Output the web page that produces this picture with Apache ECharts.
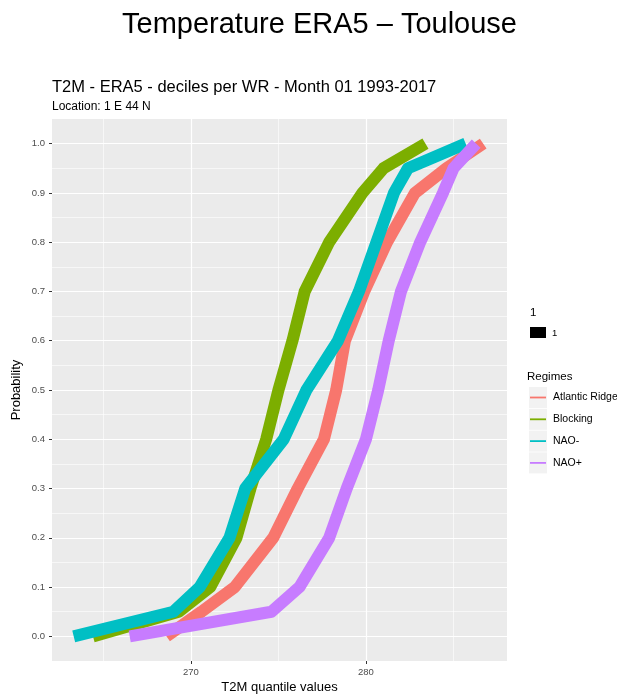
<!DOCTYPE html>
<html>
<head>
<meta charset="utf-8">
<title>Temperature ERA5 – Toulouse</title>
<script src="https://cdn.jsdelivr.net/npm/echarts@6/dist/echarts.min.js"></script>
<style>
  html, body { margin: 0; padding: 0; background: #ffffff; }
  #chart { width: 617px; height: 695px; }
</style>
</head>
<body>
<div id="chart"></div>
<script>
// Cumulative probability levels at which the T2M quantiles are given
const probs = [0, 0.05, 0.1, 0.2, 0.3, 0.4, 0.5, 0.6, 0.7, 0.8, 0.9, 0.95, 1.0];

// T2M quantile values (K) for each weather regime, one per probability level
const atlanticRidge = [268.6, 270.6, 272.5, 274.7, 276.1, 277.6, 278.3, 278.8, 279.9, 281.2, 282.8, 284.6, 286.7];
const blocking      = [264.4, 269.3, 271.1, 272.6, 273.4, 274.3, 275.0, 275.8, 276.5, 277.9, 279.8, 281.0, 283.4];
const naoMinus      = [263.3, 269.0, 270.5, 272.2, 273.1, 275.3, 276.6, 278.4, 279.6, 280.6, 281.6, 282.4, 285.7];
const naoPlus       = [266.5, 274.6, 276.2, 277.9, 278.9, 280.0, 280.7, 281.3, 282.0, 283.1, 284.4, 285.0, 286.3];

const regimeNames = ['Atlantic Ridge', 'Blocking', 'NAO-', 'NAO+'];
const regimeValues = [atlanticRidge, blocking, naoMinus, naoPlus];
const regimeColors = ['#F8766D', '#7CAE00', '#00BFC4', '#C77CFF'];

// Axis ticks
const xTicks = [270, 280];
const xMinorTicks = [265, 275, 285];
const yTicks = [0, 0.1, 0.2, 0.3, 0.4, 0.5, 0.6, 0.7, 0.8, 0.9, 1.0];
const yMinorTicks = [0.05, 0.15, 0.25, 0.35, 0.45, 0.55, 0.65, 0.75, 0.85, 0.95];

const FONT = "'Liberation Sans', Arial, Helvetica, sans-serif";
const X_MIN = 262.06, X_MAX = 288.06;
const Y_MIN = -0.05, Y_MAX = 1.05;

const chart = echarts.init(document.getElementById('chart'), null, { renderer: 'canvas' });

const series = regimeNames.map((name, i) => ({
  name: name,
  type: 'line',
  xAxisIndex: 0,
  yAxisIndex: 0,
  data: regimeValues[i].map((v, k) => [v, probs[k]]),
  showSymbol: false,
  symbol: 'none',
  silent: true,
  z: 3 + i,
  lineStyle: { color: regimeColors[i], width: 12, cap: 'butt', join: 'round' }
}));

// Legend drawn as keys with a grey background and a short coloured stroke
const legendGraphics = [];
legendGraphics.push({ type: 'text', x: 530, y: 313,
  style: { text: '1', font: '11.5px ' + FONT, fill: '#000', align: 'left', verticalAlign: 'middle' } });
legendGraphics.push({ type: 'rect', shape: { x: 530, y: 327, width: 16, height: 11 },
  style: { fill: '#000' } });
legendGraphics.push({ type: 'text', x: 552, y: 333,
  style: { text: '1', font: '9.5px ' + FONT, fill: '#000', align: 'left', verticalAlign: 'middle' } });
legendGraphics.push({ type: 'text', x: 527, y: 377,
  style: { text: 'Regimes', font: '11.5px ' + FONT, fill: '#000', align: 'left', verticalAlign: 'middle' } });
regimeNames.forEach((name, i) => {
  const cy = 397.5 + i * 21.8;
  legendGraphics.push({ type: 'rect', shape: { x: 529, y: cy - 10.5, width: 18, height: 21 },
    style: { fill: '#F2F2F2' } });
  legendGraphics.push({ type: 'line', shape: { x1: 530, y1: cy, x2: 546, y2: cy },
    style: { stroke: regimeColors[i], lineWidth: 1.8 } });
  legendGraphics.push({ type: 'text', x: 553, y: cy,
    style: { text: name, font: '10.5px ' + FONT, fill: '#000', align: 'left', verticalAlign: 'middle' } });
});

const option = {
  animation: false,
  backgroundColor: '#ffffff',
  grid: {
    left: 52, right: 110, top: 119, bottom: 34,
    show: true, backgroundColor: '#EBEBEB', borderWidth: 0
  },
  xAxis: [
    {
      type: 'value', min: X_MIN, max: X_MAX, position: 'bottom',
      axisLine: { show: false, onZero: false },
      axisTick: { show: true, customValues: xTicks, length: 3, lineStyle: { color: '#333333', width: 1 } },
      axisLabel: { customValues: xTicks, margin: 6, color: '#4D4D4D', fontSize: 9.5, fontFamily: FONT,
        formatter: v => String(Math.round(v)) },
      splitLine: { show: true, lineStyle: { color: '#ffffff', width: 1.2 } }
    },
    {
      type: 'value', min: X_MIN, max: X_MAX, position: 'bottom',
      axisLine: { show: false, onZero: false },
      axisTick: { show: false, customValues: xMinorTicks },
      axisLabel: { show: false, customValues: xMinorTicks },
      splitLine: { show: true, lineStyle: { color: '#ffffff', width: 0.6 } }
    }
  ],
  yAxis: [
    {
      type: 'value', min: Y_MIN, max: Y_MAX, position: 'left',
      axisLine: { show: false, onZero: false },
      axisTick: { show: true, customValues: yTicks, length: 3, lineStyle: { color: '#333333', width: 1 } },
      axisLabel: { customValues: yTicks, margin: 7, color: '#4D4D4D', fontSize: 9.5, fontFamily: FONT,
        formatter: v => v.toFixed(1) },
      splitLine: { show: true, lineStyle: { color: '#ffffff', width: 1.2 } }
    },
    {
      type: 'value', min: Y_MIN, max: Y_MAX, position: 'left',
      axisLine: { show: false, onZero: false },
      axisTick: { show: false, customValues: yMinorTicks },
      axisLabel: { show: false, customValues: yMinorTicks },
      splitLine: { show: true, lineStyle: { color: '#ffffff', width: 0.6 } }
    }
  ],
  series: series,
  graphic: [
    { type: 'text', x: 319.5, y: 25,
      style: { text: 'Temperature ERA5 – Toulouse', font: '29px ' + FONT, fill: '#000', align: 'center', verticalAlign: 'middle' } },
    { type: 'text', x: 52, y: 87.5,
      style: { text: 'T2M - ERA5 - deciles per WR - Month 01 1993-2017', font: '16.5px ' + FONT, fill: '#000', align: 'left', verticalAlign: 'middle' } },
    { type: 'text', x: 52, y: 107,
      style: { text: 'Location: 1 E 44 N', font: '12px ' + FONT, fill: '#000', align: 'left', verticalAlign: 'middle' } },
    { type: 'text', x: 279.5, y: 687,
      style: { text: 'T2M quantile values', font: '13px ' + FONT, fill: '#000', align: 'center', verticalAlign: 'middle' } },
    { type: 'text', x: 16, y: 390, rotation: Math.PI / 2,
      style: { text: 'Probability', font: '13px ' + FONT, fill: '#000', align: 'center', verticalAlign: 'middle' } }
  ].concat(legendGraphics)
};

chart.setOption(option);
</script>
</body>
</html>
